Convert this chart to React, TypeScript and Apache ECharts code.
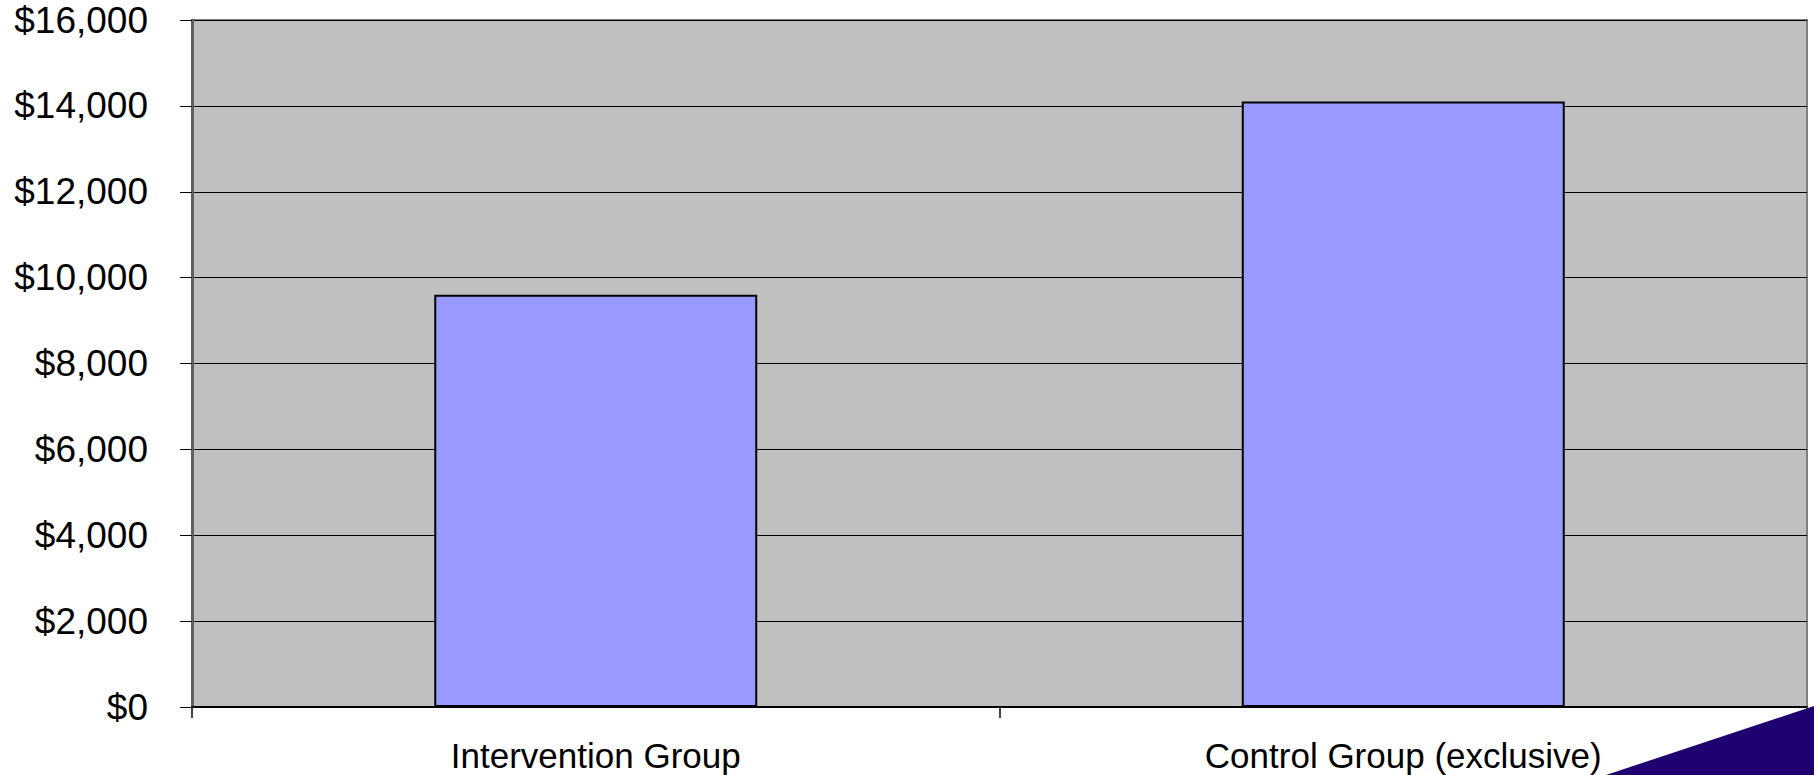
import React, { useEffect, useRef } from "react";
import * as echarts from "echarts";

const categories = ["Intervention Group", "Control Group (exclusive)"];
const costValues = [9600, 14100];
const yTicks = [0, 2000, 4000, 6000, 8000, 10000, 12000, 14000, 16000];

export default function App() {
  const ref = useRef<HTMLDivElement>(null);
  useEffect(() => {
    if (!ref.current) return;
    const chart = echarts.init(ref.current, undefined, { renderer: "svg" });
    const font = '"Liberation Sans", Arial, sans-serif';
    chart.setOption({
      animation: false,
      backgroundColor: "#ffffff",
      grid: {
        left: 192,
        top: 20,
        right: 7,
        bottom: 68,
        show: true,
        backgroundColor: "#c0c0c0",
        borderColor: "#808080",
        borderWidth: 2,
      },
      xAxis: {
        type: "category",
        data: categories,
        axisLine: { lineStyle: { color: "#000000", width: 2 } },
        axisTick: { show: true, length: 11, lineStyle: { color: "#404040", width: 2 } },
        axisLabel: {
          color: "#000000",
          fontFamily: font,
          fontSize: 35,
          margin: 31,
        },
      },
      yAxis: {
        type: "value",
        min: yTicks[0],
        max: yTicks[yTicks.length - 1],
        interval: yTicks[1] - yTicks[0],
        axisLine: { show: true, lineStyle: { color: "#606060", width: 3 } },
        axisTick: { show: true, length: 12, lineStyle: { color: "#000000", width: 1 } },
        splitLine: { show: true, lineStyle: { color: "#000000", width: 1 } },
        axisLabel: {
          color: "#000000",
          fontFamily: font,
          fontSize: 37,
          margin: 44,
          formatter: (v: number) => "$" + v.toLocaleString("en-US"),
        },
      },
      series: [
        {
          type: "bar",
          data: costValues,
          barWidth: "40%",
          itemStyle: { color: "#9999ff", borderColor: "#000000", borderWidth: 2 },
        },
      ],
      graphic: [
        {
          type: "polygon",
          shape: { points: [[1606, 775], [1814, 706], [1814, 775]] },
          style: { fill: "#200070" },
          z: 100,
        },
      ],
    });
    return () => chart.dispose();
  }, []);
  return (
    <div
      ref={ref}
      style={{ position: "fixed", left: 0, top: 0, width: 1814, height: 775 }}
    />
  );
}
